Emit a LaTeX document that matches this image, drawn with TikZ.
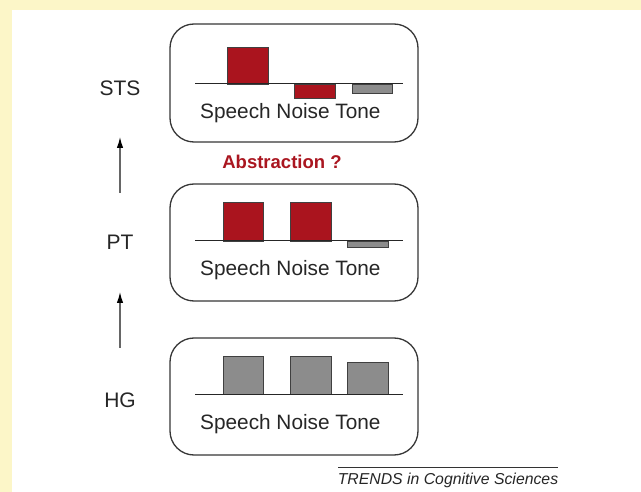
\documentclass[tikz,border=0pt]{standalone}
\usepackage{fontspec}
\setmainfont{Liberation Sans}
\usetikzlibrary{arrows.meta}
\definecolor{bgyellow}{RGB}{252,246,200}
\definecolor{barred}{RGB}{170,20,30}
\definecolor{bargray}{RGB}{140,140,140}
\definecolor{boxline}{RGB}{55,55,55}
\definecolor{absred}{RGB}{170,22,32}
\tikzset{
  panel/.style={draw=boxline, line width=1.3pt, rounded corners=24pt, minimum width=248pt, inner sep=0pt},
  redbar/.style={fill=barred, draw=black!75, line width=0.8pt},
  graybar/.style={fill=bargray, draw=black!75, line width=0.8pt},
  baseline/.style={draw=black!85, line width=1pt},
  lbl/.style={font=\fontsize{20.8}{25}\selectfont, text=black!85, inner sep=0pt},
  area/.style={font=\fontsize{21}{25}\selectfont, text=black!85, inner sep=0pt},
  uparr/.style={draw=black!60, line width=1.2pt, -{Latex[length=11pt,width=6.5pt,black]}}
}
\begin{document}
\begin{tikzpicture}[x=1pt,y=-1pt]
\useasboundingbox (0,0) rectangle (641,492);
\fill[bgyellow] (0,0) rectangle (641,492);
\fill[white] (12,10) rectangle (641,492);
% panels
\node[panel, minimum height=118pt] (box1) at (294,83) {};
\node[panel, minimum height=117pt] (box2) at (294,242.5) {};
\node[panel, minimum height=117pt] (box3) at (294,396.5) {};
% box1 bars
\draw[redbar] (227,84) rectangle (268,47);
\draw[redbar] (294,84) rectangle (335,98);
\draw[graybar] (352,84) rectangle (392,93);
\draw[baseline] (195,84) -- (403,84);
\node[lbl, anchor=west] (t1) at (200,113) {Speech Noise Tone};
% box2 bars
\draw[redbar] (223,241) rectangle (263,202);
\draw[redbar] (290,241) rectangle (331,202);
\draw[graybar] (347,241) rectangle (388,247);
\draw[baseline] (195,241) -- (403,241);
\node[lbl, anchor=west] (t2) at (200,270) {Speech Noise Tone};
% box3 bars
\draw[graybar] (223,394) rectangle (263,356);
\draw[graybar] (290,394) rectangle (331,356);
\draw[graybar] (347,394) rectangle (388,362);
\draw[baseline] (195,394) -- (403,394);
\node[lbl, anchor=west] (t3) at (200,424) {Speech Noise Tone};
% area labels
\node[area] (sts) at (120,88) {STS};
\node[area] (pt) at (120,242) {PT};
\node[area] (hg) at (120,400) {HG};
% arrows
\coordinate (a1s) at (120,193);
\coordinate (a1e) at (120,137);
\coordinate (a2s) at (120,348);
\coordinate (a2e) at (120,292);
\draw[uparr] (a1s) -- (a1e);
\draw[uparr] (a2s) -- (a2e);
% abstraction
\node[font=\bfseries\fontsize{18.5}{22}\selectfont, text=absred, inner sep=0pt] (abs) at (282,162) {Abstraction ?};
% footer
\coordinate (fl) at (338,467);
\coordinate (fr) at (558,467);
\draw[black!80, line width=0.8pt] (fl) -- (fr);
\node[font=\itshape\fontsize{15.8}{19}\selectfont, text=black!85, inner sep=0pt] (trends) at (448,480) {TRENDS in Cognitive Sciences};
\end{tikzpicture}
\end{document}
